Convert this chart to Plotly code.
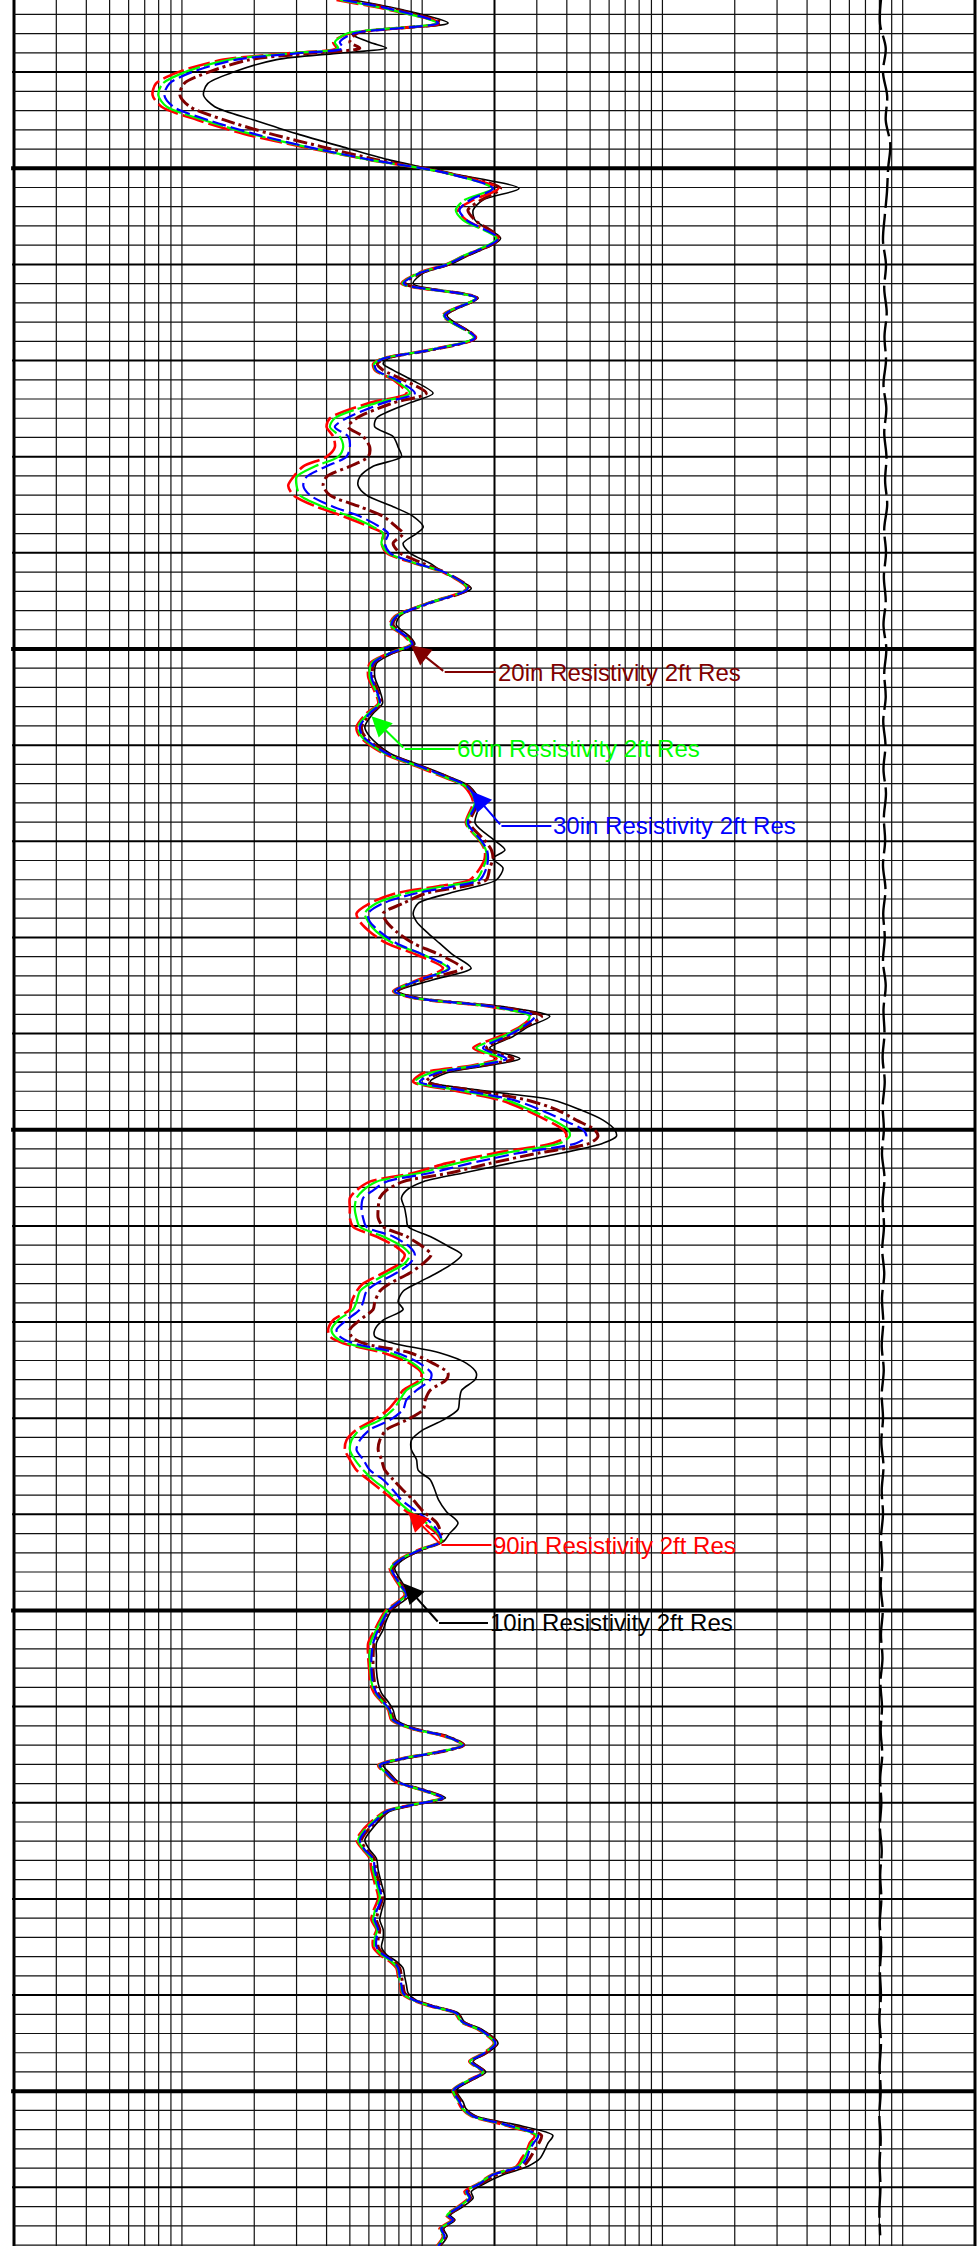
import math
import plotly.graph_objects as go

# ---------------- data (depth in ft, resistivity in ohm.m) ----------------
DEPTH = [
    2532.5, 2533.5, 2534.9, 2536.0, 2536.9, 2537.5, 2538.05, 2538.7, 2540.0, 2541.2, 2542.4, 2543.6, 2545.0, 2546.4, 2547.75, 2549.1, 2550.5, 2552.1, 2553.3, 2554.35, 2555.4, 2557.3, 2559.2, 2560.05, 2560.9, 2562.0, 2563.5, 2565.3, 2567.6, 2568.9, 2569.8, 2570.35,
    2571.0, 2572.0, 2573.4, 2574.4, 2576.0, 2576.9, 2577.9, 2579.0, 2580.0, 2581.0, 2582.1, 2583.0, 2584.0, 2585.2, 2586.2, 2587.3, 2588.0, 2589.0, 2590.0, 2591.1, 2592.1, 2593.7, 2595.2, 2596.6, 2597.5, 2598.7, 2599.5, 2600.45, 2601.5, 2602.9, 2604.3, 2605.65, 2606.7, 2608.1, 2609.1,
    2610.85, 2612.2, 2613.3, 2614.3, 2615.9, 2618.1, 2619.9, 2620.9, 2621.8, 2622.8, 2624.0, 2624.7, 2625.4, 2626.45, 2627.5, 2628.35, 2629.4, 2630.6, 2631.8, 2633.2, 2634.4, 2635.6, 2636.3, 2637.2, 2638.2, 2639.3, 2640.3, 2641.5, 2642.6, 2643.3, 2644.1, 2645.0, 2645.9, 2646.9,
    2647.9, 2649.0, 2650.0, 2650.7, 2651.4, 2652.4, 2653.5, 2654.5, 2655.4, 2656.3, 2657.1, 2658.2, 2659.2, 2660.1, 2661.1, 2662.2, 2663.0, 2663.9, 2664.9, 2666.0, 2666.8, 2667.9, 2668.7, 2669.8, 2670.8, 2671.5, 2672.2, 2673.2, 2674.3, 2675.3, 2676.0, 2677.1, 2678.1, 2679.1, 2680.2, 2681.2, 2682.3, 2683.3, 2684.3, 2685.4,
    2686.4, 2687.5, 2688.5, 2689.7, 2690.9, 2692.0, 2692.8, 2693.7, 2694.75, 2695.6, 2696.7, 2697.5, 2698.4, 2699.3, 2700.0, 2701.0, 2702.0, 2703.4, 2704.8, 2706.2, 2707.6, 2708.6, 2709.5, 2710.35, 2711.4, 2712.3, 2713.1, 2714.0, 2714.7, 2715.4, 2716.1, 2716.9, 2717.8, 2718.7, 2719.5, 2720.2, 2720.9, 2721.8, 2722.8, 2723.9,
    2724.9, 2725.8, 2727.0, 2728.4, 2729.9, 2731.3, 2732.2, 2733.2, 2734.1, 2735.0, 2735.8, 2736.5, 2737.2, 2738.1, 2738.95, 2739.8, 2740.5, 2741.2, 2741.9, 2742.8, 2743.6, 2745.0, 2746.1, 2746.9, 2748.0, 2748.8, 2749.9, 2751.1, 2751.8, 2752.6, 2753.5, 2754.6, 2755.4, 2756.1, 2757.0, 2757.8, 2758.7, 2759.6, 2760.45, 2761.1, 2762.0, 2762.9, 2763.4, 2764.3, 2765.1, 2766.1,
]

RES_90 = [
    4.40, 7.22, 11.84, 4.92, 4.26, 4.40, 2.73, 1.49, 0.965, 0.779, 0.755, 0.823, 1.17, 1.80, 3.15, 5.96, 12.6, 20.7, 16.3, 14.1, 15.3, 20.7, 14.6, 12.4, 9.62, 8.20, 16.8, 12.2, 16.7, 10.6, 6.77, 6.25,
    6.35, 7.57, 8.60, 6.05, 4.13, 4.00, 4.26, 4.33, 4.00, 3.20, 2.91, 2.77, 2.91, 3.63, 4.69, 6.05, 6.88, 6.77, 7.10, 9.32, 12.4, 15.3, 10.6, 7.69, 7.33, 8.46, 8.97, 7.22, 6.05, 5.96, 6.31, 6.56, 5.86, 5.33, 5.50,
    6.88, 9.47, 12.2, 15.0, 16.3, 15.2, 17.3, 18.2, 18.2, 17.4, 15.8, 11.5, 7.81, 6.05, 5.33, 5.50, 6.05, 7.10, 9.47, 12.2, 9.62, 7.57, 9.17, 19.1, 28.5, 25.5, 21.0, 16.3, 20.4, 16.3, 10.1, 9.17, 13.4, 21.0,
    26.7, 32.9, 38.6, 39.8, 35.0, 20.4, 12.6, 9.17, 6.05, 5.33, 5.00, 5.00, 5.00, 5.16, 6.45, 7.81, 8.46, 8.07, 6.88, 5.68, 5.33, 5.08, 5.00, 4.26, 4.06, 4.13, 4.69, 6.88, 8.88, 9.93, 9.77, 8.33, 7.81, 7.22, 6.25, 5.33, 4.84, 4.77, 5.00, 5.33,
    5.96, 6.77, 7.57, 8.60, 10.1, 11.5, 11.9, 9.62, 7.94, 7.33, 7.69, 8.07, 8.46, 7.69, 7.06, 6.66, 6.35, 5.96, 5.96, 6.02, 6.09, 6.31, 6.77, 7.22, 7.45, 9.02, 12.4, 14.8, 11.7, 8.20, 6.56, 6.99, 7.69, 9.93, 12.0, 9.02, 6.99, 6.25, 5.68, 5.33,
    5.68, 6.05, 6.15, 6.35, 6.56, 6.25, 6.15, 6.45, 6.25, 6.25, 6.66, 7.33, 7.81, 7.94, 8.12, 8.20, 9.02, 10.9, 13.7, 14.5, 17.1, 19.9, 17.8, 15.7, 17.8, 15.7, 13.4, 14.1, 14.6, 16.0, 21.7, 29.4, 28.0, 27.3, 25.9, 24.7, 19.4, 17.1, 15.0, 15.5, 14.1, 12.6, 13.2, 11.8, 12.2, 11.5,
]

RES_60 = [
    4.54, 7.33, 11.46, 4.84, 4.33, 4.47, 2.81, 1.58, 1.03, 0.831, 0.797, 0.864, 1.24, 1.92, 3.25, 5.96, 12.6, 19.6, 15.0, 13.8, 14.8, 20.4, 14.6, 12.5, 9.71, 8.28, 16.7, 12.3, 16.4, 10.7, 6.84, 6.31,
    6.41, 7.69, 8.88, 6.45, 4.33, 4.13, 4.54, 4.69, 4.47, 3.58, 3.00, 3.00, 3.10, 3.87, 5.00, 6.25, 6.88, 6.77, 7.22, 9.41, 12.5, 15.4, 10.7, 7.77, 7.40, 8.55, 9.02, 7.29, 6.15, 6.05, 6.39, 6.62, 5.96, 5.41, 5.59,
    6.99, 9.62, 12.4, 15.2, 16.6, 15.3, 17.4, 18.4, 18.5, 17.9, 16.8, 12.2, 8.60, 6.45, 5.77, 5.96, 6.45, 7.57, 10.1, 12.8, 9.77, 7.64, 9.26, 19.4, 28.0, 25.9, 21.7, 16.8, 21.4, 16.8, 10.8, 9.32, 14.3, 22.4,
    28.0, 35.0, 40.5, 41.1, 37.4, 22.4, 13.9, 9.77, 6.45, 5.68, 5.33, 5.24, 5.33, 5.50, 6.88, 8.33, 8.88, 8.46, 7.22, 6.05, 5.50, 5.33, 5.16, 4.47, 4.19, 4.33, 4.84, 7.33, 9.17, 10.1, 10.1, 8.60, 8.07, 7.57, 6.66, 5.50, 5.08, 5.00, 5.24, 5.68,
    6.25, 7.10, 7.81, 8.88, 10.4, 11.7, 12.0, 9.71, 8.02, 7.40, 7.77, 8.15, 8.55, 7.77, 7.15, 6.77, 6.45, 6.09, 6.05, 6.09, 6.17, 6.39, 6.84, 7.29, 7.52, 9.11, 12.5, 14.7, 11.8, 8.28, 6.62, 7.06, 7.77, 10.0, 12.1, 9.11, 7.06, 6.35, 5.77, 5.41,
    5.73, 6.15, 6.25, 6.45, 6.66, 6.35, 6.25, 6.50, 6.35, 6.35, 6.77, 7.45, 7.89, 8.02, 8.15, 8.28, 9.11, 11.0, 13.8, 14.6, 17.25, 20.05, 17.9, 15.8, 17.9, 15.8, 13.45, 14.2, 14.7, 16.2, 22.1, 29.9, 28.5, 27.6, 26.5, 25.1, 19.6, 17.25, 15.2, 15.7, 14.2, 12.7, 13.4, 11.95, 12.3, 11.6,
]

RES_30 = [
    4.69, 7.57, 11.65, 5.16, 4.54, 4.69, 3.00, 1.69, 1.10, 0.886, 0.845, 0.920, 1.29, 1.98, 3.30, 6.05, 12.6, 19.7, 15.8, 14.3, 15.3, 20.7, 14.8, 12.6, 9.77, 8.38, 16.8, 12.4, 16.6, 10.8, 6.88, 6.35,
    6.45, 7.81, 9.32, 6.88, 4.84, 4.33, 4.92, 5.00, 4.84, 4.00, 3.30, 3.20, 3.41, 4.26, 5.50, 6.66, 7.22, 6.99, 7.33, 9.47, 12.6, 15.5, 10.8, 7.81, 7.45, 8.60, 9.11, 7.33, 6.25, 6.15, 6.45, 6.66, 6.05, 5.50, 5.68,
    7.10, 9.77, 12.6, 15.4, 16.8, 15.5, 17.6, 18.6, 18.8, 18.5, 17.4, 13.4, 9.47, 6.88, 5.96, 6.05, 6.66, 7.81, 10.1, 13.0, 9.77, 7.69, 9.32, 19.7, 29.4, 26.3, 22.4, 17.9, 22.4, 17.4, 11.5, 9.77, 14.8, 23.9,
    30.9, 38.6, 46.7, 48.2, 43.8, 25.5, 15.8, 10.8, 7.10, 6.25, 5.68, 5.59, 5.68, 5.86, 7.57, 8.88, 9.32, 8.88, 7.81, 6.45, 5.86, 5.68, 5.50, 4.84, 4.40, 4.54, 5.16, 7.81, 9.77, 10.9, 10.8, 9.47, 8.60, 8.33, 7.33, 6.05, 5.50, 5.33, 5.68, 6.05,
    6.88, 7.57, 8.20, 9.47, 10.9, 11.8, 12.0, 9.77, 8.07, 7.45, 7.81, 8.20, 8.60, 7.81, 7.22, 6.88, 6.56, 6.25, 6.15, 6.15, 6.25, 6.45, 6.88, 7.33, 7.57, 9.17, 12.6, 14.8, 11.8, 8.33, 6.66, 7.10, 7.81, 10.1, 12.2, 9.17, 7.10, 6.45, 5.86, 5.50,
    5.77, 6.25, 6.35, 6.56, 6.77, 6.45, 6.35, 6.56, 6.45, 6.45, 6.88, 7.57, 7.94, 8.07, 8.20, 8.33, 9.17, 11.1, 13.9, 14.7, 17.4, 20.2, 18.0, 15.9, 18.0, 15.9, 13.5, 14.3, 14.8, 16.3, 22.4, 30.4, 29.1, 28.0, 27.2, 25.5, 19.7, 17.4, 15.3, 15.8, 14.3, 12.8, 13.45, 12.0, 12.4, 11.65,
]

RES_20 = [
    4.84, 7.81, 12.03, 5.33, 5.00, 5.50, 3.41, 1.92, 1.29, 1.02, 0.981, 1.08, 1.51, 2.32, 3.81, 6.45, 12.8, 21.2, 17.6, 15.5, 16.6, 20.9, 14.9, 12.7, 9.87, 8.46, 16.9, 12.5, 16.7, 10.9, 6.99, 6.50,
    6.88, 8.33, 10.4, 7.57, 5.33, 4.92, 5.68, 6.05, 5.96, 5.00, 4.00, 3.87, 4.13, 5.50, 6.88, 7.81, 8.33, 7.57, 8.07, 10.1, 12.6, 15.7, 10.8, 7.89, 7.57, 8.68, 9.17, 7.40, 6.31, 6.21, 6.52, 6.73, 6.11, 5.59, 5.77,
    7.17, 9.87, 12.7, 15.5, 17.0, 15.8, 18.2, 19.4, 19.7, 19.1, 18.5, 14.8, 10.4, 8.33, 6.88, 7.10, 7.81, 9.17, 11.8, 14.6, 10.1, 7.81, 9.47, 20.4, 31.4, 26.7, 23.1, 18.5, 23.9, 17.9, 11.8, 10.4, 16.3, 27.2,
    36.2, 43.8, 52.2, 53.9, 49.8, 30.9, 19.1, 13.0, 8.33, 7.10, 6.66, 6.56, 6.56, 6.88, 8.60, 10.1, 10.9, 10.1, 8.88, 7.33, 6.66, 6.35, 6.25, 5.50, 5.00, 5.08, 5.68, 8.88, 11.1, 12.8, 12.6, 10.8, 10.3, 10.1, 8.60, 7.10, 6.66, 6.56, 6.77, 6.99,
    7.57, 8.33, 9.17, 10.1, 11.5, 12.0, 12.1, 9.87, 8.15, 7.52, 7.89, 8.28, 8.68, 7.89, 7.29, 6.95, 6.66, 6.31, 6.25, 6.25, 6.35, 6.56, 6.99, 7.40, 7.64, 9.26, 12.7, 14.9, 12.0, 8.41, 6.73, 7.17, 7.86, 10.2, 12.3, 9.26, 7.17, 6.52, 5.96, 5.59,
    5.86, 6.31, 6.41, 6.62, 6.84, 6.56, 6.45, 6.66, 6.56, 6.56, 6.95, 7.64, 8.07, 8.20, 8.33, 8.46, 9.26, 11.2, 14.0, 14.8, 17.5, 20.4, 18.2, 16.0, 18.2, 16.0, 13.7, 14.5, 14.9, 16.4, 23.1, 31.4, 30.6, 29.4, 28.0, 26.3, 20.4, 17.6, 15.5, 15.9, 14.5, 12.9, 13.5, 12.1, 12.5, 11.75,
]

RES_10 = [
    5.16, 8.20, 12.82, 5.08, 6.05, 7.10, 4.40, 2.48, 1.64, 1.28, 1.23, 1.37, 2.01, 3.00, 4.62, 7.22, 13.0, 25.3, 17.9, 16.3, 16.6, 21.2, 15.2, 12.9, 10.1, 9.17, 17.1, 12.7, 16.8, 11.0, 7.22, 6.88,
    7.57, 9.02, 11.1, 8.88, 6.45, 6.35, 7.57, 7.94, 8.20, 6.25, 5.50, 5.41, 5.86, 7.57, 9.17, 10.1, 9.47, 8.33, 8.88, 10.8, 12.4, 16.0, 10.6, 8.07, 7.81, 8.88, 9.32, 7.57, 6.45, 6.35, 6.66, 6.84, 6.25, 5.77, 6.05,
    7.33, 10.1, 13.0, 15.8, 17.4, 16.6, 20.0, 22.1, 19.7, 21.7, 20.4, 16.8, 13.0, 9.62, 9.17, 9.47, 10.4, 11.8, 13.4, 16.0, 11.1, 7.94, 9.77, 21.7, 34.0, 27.6, 23.9, 19.1, 25.5, 19.1, 12.6, 10.8, 17.4, 35.0,
    45.3, 56.6, 63.3, 64.3, 56.6, 38.6, 23.1, 14.8, 10.1, 8.60, 8.20, 8.46, 8.60, 8.74, 10.8, 13.0, 14.6, 13.4, 11.5, 9.47, 8.33, 7.94, 8.33, 6.88, 6.35, 6.35, 7.57, 11.8, 15.3, 16.8, 16.6, 14.6, 14.3, 14.1, 12.2, 10.1, 9.02, 9.02, 9.47, 9.62,
    10.8, 11.3, 11.7, 12.6, 14.1, 13.0, 12.3, 10.0, 8.28, 7.69, 8.07, 8.46, 8.88, 8.07, 7.45, 7.10, 6.88, 6.45, 6.45, 6.45, 6.56, 6.77, 7.22, 7.57, 7.81, 9.41, 12.9, 15.0, 12.1, 8.60, 6.88, 7.33, 7.94, 10.35, 12.5, 9.41, 7.33, 6.66, 6.15, 5.77,
    6.05, 6.45, 6.56, 6.77, 6.99, 6.77, 6.66, 6.88, 6.88, 6.77, 7.10, 7.81, 8.33, 8.46, 8.60, 8.74, 9.41, 11.4, 14.2, 15.0, 17.8, 20.7, 18.4, 16.3, 18.4, 16.3, 13.9, 14.8, 15.2, 16.8, 24.7, 35.0, 33.4, 32.4, 30.9, 27.6, 21.7, 18.2, 16.0, 16.3, 14.8, 13.1, 13.7, 12.3, 12.7, 11.9,
]

# auxiliary dashed curve plotted on the same track
AUX_DEPTH = [
    2532.5, 2535.0, 2537.5, 2540.0, 2542.5, 2545.0, 2547.5, 2550.0, 2552.5, 2555.0,
    2557.5, 2560.0, 2562.5, 2565.0, 2567.5, 2570.0, 2572.5, 2575.0, 2577.5, 2580.0,
    2582.5, 2585.0, 2587.5, 2590.0, 2592.5, 2595.0, 2597.5, 2600.0, 2602.5, 2605.0,
    2607.5, 2610.0, 2612.5, 2615.0, 2617.5, 2620.0, 2622.5, 2625.0, 2627.5, 2630.0,
    2632.5, 2635.0, 2637.5, 2640.0, 2642.5, 2645.0, 2647.5, 2650.0, 2652.5, 2655.0,
    2657.5, 2660.0, 2662.5, 2665.0, 2667.5, 2670.0, 2672.5, 2675.0, 2677.5, 2680.0,
    2682.5, 2685.0, 2687.5, 2690.0, 2692.5, 2695.0, 2697.5, 2700.0, 2702.5, 2705.0,
    2707.5, 2710.0, 2712.5, 2715.0, 2717.5, 2720.0, 2722.5, 2725.0, 2727.5, 2730.0,
    2732.5, 2735.0, 2737.5, 2740.0, 2742.5, 2745.0, 2747.5, 2750.0, 2752.5, 2755.0,
    2757.5, 2760.0, 2762.5, 2765.0,
]
AUX_VAL = [
    812, 805, 850, 828, 862, 850, 888, 870, 860, 842,
    828, 852, 838, 858, 840, 852, 832, 855, 838, 856,
    845, 862, 838, 852, 835, 850, 832, 855, 838, 850,
    830, 848, 832, 852, 835, 845, 828, 848, 830, 842,
    828, 850, 832, 840, 825, 842, 826, 835, 820, 840,
    825, 836, 822, 838, 820, 830, 818, 834, 818, 828,
    815, 832, 818, 828, 812, 822, 810, 826, 812, 824,
    808, 820, 810, 822, 806, 815, 804, 818, 806, 815,
    803, 814, 804, 812, 800, 812, 802, 810, 800, 810,
    802, 808, 800, 806,
]

# grid: resistivity grid values and depth spacing
GRID_MULT = [2, 3, 4, 5, 6, 7, 8, 9, 10]
GRID_DECADES = [0.1, 1, 10, 100]
GRID_EXTRA = [2000]
DEPTH_STEP = 2

X_MIN, X_MAX = 0.2, 2000
Y_TOP, Y_BOT = 2532.5, 2766.1

# labels: name, colour, arrow tip (res, depth), elbow (res, depth), end of leader (res)
LABELS = [
    ("20in Resistivity 2ft Res", "#800000", 8.96, 2599.6, 12.41, 2602.4, 20.2),
    ("60in Resistivity 2ft Res", "#00ff00", 6.15, 2607.0, 8.46, 2610.4, 13.66),
    ("30in Resistivity 2ft Res", "#0000ff", 16.03, 2614.8, 21.37, 2618.4, 34.5),
    ("90in Resistivity 2ft Res", "#ff0000", 8.73, 2689.7, 12.03, 2693.2, 19.42),
    ("10in Resistivity 2ft Res", "#000000", 8.38, 2697.2, 11.75, 2701.3, 18.79),
]

LMIN, LMAX = math.log10(X_MIN), math.log10(X_MAX)


def xfrac(v):
    return (math.log10(v) - LMIN) / (LMAX - LMIN)


fig = go.Figure()

curves = [
    ("10in Resistivity 2ft Res", RES_10, "#000000", 1.6, "solid"),
    ("20in Resistivity 2ft Res", RES_20, "#800000", 3.0, "14px,4px,3px,4px"),
    ("90in Resistivity 2ft Res", RES_90, "#ff0000", 2.6, "22px,5px"),
    ("60in Resistivity 2ft Res", RES_60, "#00ff00", 2.2, "40px,4px"),
    ("30in Resistivity 2ft Res", RES_30, "#0000ff", 2.2, "14px,5px"),
]

fig.add_trace(go.Scatter(x=AUX_VAL, y=AUX_DEPTH, mode="lines", name="aux",
                         line=dict(color="#000000", width=2.4, dash="30px,6px", shape="spline", smoothing=1.0),
                         hoverinfo="skip"))
for name, vals, col, w, dash in curves:
    fig.add_trace(go.Scatter(x=vals, y=DEPTH, mode="lines", name=name,
                             line=dict(color=col, width=w, dash=dash, shape="spline", smoothing=0.8),
                             hoverinfo="skip"))

shapes = []
grid_x = sorted({round(m * d, 6) for d in GRID_DECADES for m in GRID_MULT} | set(GRID_EXTRA))
for v in grid_x:
    if v in (X_MIN, X_MAX):
        w, c = 3, "#000000"
    elif abs(v - 20) < 1e-9:
        w, c = 2, "#000000"
    else:
        w, c = 1.2, "#111111"
    shapes.append(dict(type="line", xref="paper", yref="paper", x0=xfrac(v), x1=xfrac(v), y0=0, y1=1,
                       line=dict(color=c, width=w), layer="below"))

d = math.ceil(Y_TOP / DEPTH_STEP) * DEPTH_STEP
while d <= Y_BOT:
    if d % 50 == 0:
        w, c, x0 = 4, "#000000", -0.003
    elif d % 10 == 0:
        w, c, x0 = 2, "#000000", -0.002
    else:
        w, c, x0 = 1.2, "#111111", 0
    shapes.append(dict(type="line", xref="paper", yref="y", x0=x0, x1=1, y0=d, y1=d,
                       line=dict(color=c, width=w), layer="below"))
    d += DEPTH_STEP

annotations = []
for name, col, tv, td, ev, ed, endv in LABELS:
    annotations.append(dict(x=math.log10(tv), y=td, xref="x", yref="y",
                            ax=math.log10(ev), ay=ed, axref="x", ayref="y",
                            text="", showarrow=True, arrowhead=2, arrowsize=2, arrowwidth=2,
                            arrowcolor=col, standoff=0))
    shapes.append(dict(type="line", xref="paper", yref="y", x0=xfrac(ev), x1=xfrac(endv), y0=ed, y1=ed,
                       line=dict(color=col, width=2), layer="above"))
    annotations.append(dict(x=math.log10(endv), y=ed, xref="x", yref="y", text=name, showarrow=False,
                            xanchor="left", yanchor="middle", xshift=2, borderpad=0, borderwidth=0,
                            font=dict(family="Liberation Sans, Arial, sans-serif", size=24, color=col)))

fig.update_layout(
    width=977, height=2246, autosize=False,
    margin=dict(l=14, r=2, t=0, b=0, pad=0),
    plot_bgcolor="white", paper_bgcolor="white",
    showlegend=False,
    shapes=shapes, annotations=annotations,
    xaxis=dict(type="log", range=[LMIN, LMAX], showgrid=False, zeroline=False, showticklabels=False,
               ticks="", showline=False, fixedrange=True),
    yaxis=dict(range=[Y_BOT, Y_TOP], showgrid=False, zeroline=False, showticklabels=False,
               ticks="", showline=False, fixedrange=True),
)

fig.write_html("out.html", config={"displayModeBar": False},
               post_script="document.body.style.margin='0';document.body.style.overflow='hidden';")
